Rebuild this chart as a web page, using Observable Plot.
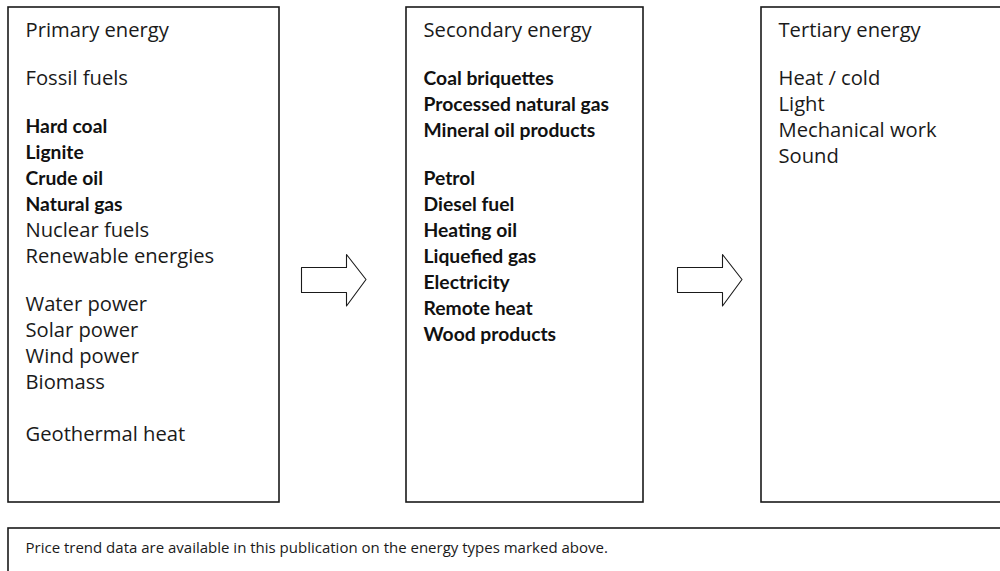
<!DOCTYPE html>
<html>
<head>
<meta charset="utf-8">
<script src="https://cdn.jsdelivr.net/npm/d3@7"></script>
<script src="https://cdn.jsdelivr.net/npm/@observablehq/plot@0.6"></script>
<style>
  html, body { margin: 0; padding: 0; background: #fff; }
  #chart svg { display: block; }
</style>
</head>
<body>
<div id="chart"></div>
<script>
// ---- Data (text content of the diagram) ----
const columnTitles = ["Primary energy", "Secondary energy", "Tertiary energy"];

// each entry: [label, bold?, blank lines before it]
const primaryItems = [
  ["Fossil fuels", false, 1],
  ["Hard coal", true, 1],
  ["Lignite", true, 0],
  ["Crude oil", true, 0],
  ["Natural gas", true, 0],
  ["Nuclear fuels", false, 0],
  ["Renewable energies", false, 0],
  ["Water power", false, 1],
  ["Solar power", false, 0],
  ["Wind power", false, 0],
  ["Biomass", false, 0],
  ["Geothermal heat", false, 1.15]
];
const secondaryItems = [
  ["Coal briquettes", true, 1],
  ["Processed natural gas", true, 0],
  ["Mineral oil products", true, 0],
  ["Petrol", true, 1],
  ["Diesel fuel", true, 0],
  ["Heating oil", true, 0],
  ["Liquefied gas", true, 0],
  ["Electricity", true, 0],
  ["Remote heat", true, 0],
  ["Wood products", true, 0]
];
const tertiaryItems = [
  ["Heat / cold", false, 1],
  ["Light", false, 0],
  ["Mechanical work", false, 0],
  ["Sound", false, 0]
];
const captionText = "Price trend data are available in this publication on the energy types marked above.";

// ---- Layout ----
const W = 1000, H = 571;
const boxes = [
  {x1: 8,   x2: 279,  y1: 7,   y2: 502},
  {x1: 406, x2: 643,  y1: 7,   y2: 502},
  {x1: 761, x2: 1012, y1: 7,   y2: 502},
  {x1: 8,   x2: 1012, y1: 528, y2: 590}
];
const textPad = 17;
const titleY = 30.5;     // centre of first line
const lineH = 26;
const gapH = 22;         // extra space for a blank line

function layoutColumn(col, items) {
  const x = boxes[col].x1 + textPad;
  const out = [{x, y: titleY, text: columnTitles[col], bold: false}];
  let y = titleY;
  for (const [label, bold, gaps] of items) {
    y += lineH + gaps * gapH;
    out.push({x, y, text: label, bold});
  }
  return out;
}
const labels = [
  ...layoutColumn(0, primaryItems),
  ...layoutColumn(1, secondaryItems),
  ...layoutColumn(2, tertiaryItems)
];

// arrow outline (relative), placed between the boxes
const arrowShape = [[0,0],[45,0],[45,-13],[64.5,12],[45,38.5],[45,25],[0,25],[0,0]];
const arrowOrigins = [[301, 267], [677, 267]];
const arrows = arrowOrigins.flatMap(([ox, oy], i) =>
  arrowShape.map(([dx, dy]) => ({x: ox + dx, y: oy + dy, id: i})));

const regularFont = "'Open Sans', 'DejaVu Sans', sans-serif";
const boldFont = "Lato, 'Open Sans', sans-serif";
const captionFont = "'Liberation Sans Narrow', 'Open Sans', sans-serif";

const chart = Plot.plot({
  width: W,
  height: H,
  margin: 0,
  x: {domain: [0, W], range: [0, W], axis: null},
  y: {domain: [0, H], range: [0, H], axis: null},
  style: {fontFamily: regularFont, background: "#fff"},
  marks: [
    Plot.rect(boxes, {x1: "x1", x2: "x2", y1: "y1", y2: "y2", fill: "none", stroke: "#1a1a1a", strokeWidth: 1.6}),
    Plot.line(arrows, {x: "x", y: "y", z: "id", stroke: "#1a1a1a", strokeWidth: 1.1, curve: "linear"}),
    Plot.text(labels.filter(d => !d.bold), {x: "x", y: "y", text: "text", textAnchor: "start", lineAnchor: "middle", fontSize: 20.2, fill: "#1a1a1a", fontWeight: 400, fontFamily: regularFont}),
    Plot.text(labels.filter(d => d.bold), {x: "x", y: "y", text: "text", textAnchor: "start", lineAnchor: "middle", fontSize: 19.3, fill: "#111", fontWeight: 700, fontFamily: boldFont}),
    Plot.text([captionText], {x: boxes[3].x1 + textPad, y: 548, text: d => d, textAnchor: "start", lineAnchor: "middle", fontSize: 15, fill: "#1a1a1a", fontFamily: captionFont})
  ]
});
document.getElementById("chart").appendChild(chart);
</script>
</body>
</html>
